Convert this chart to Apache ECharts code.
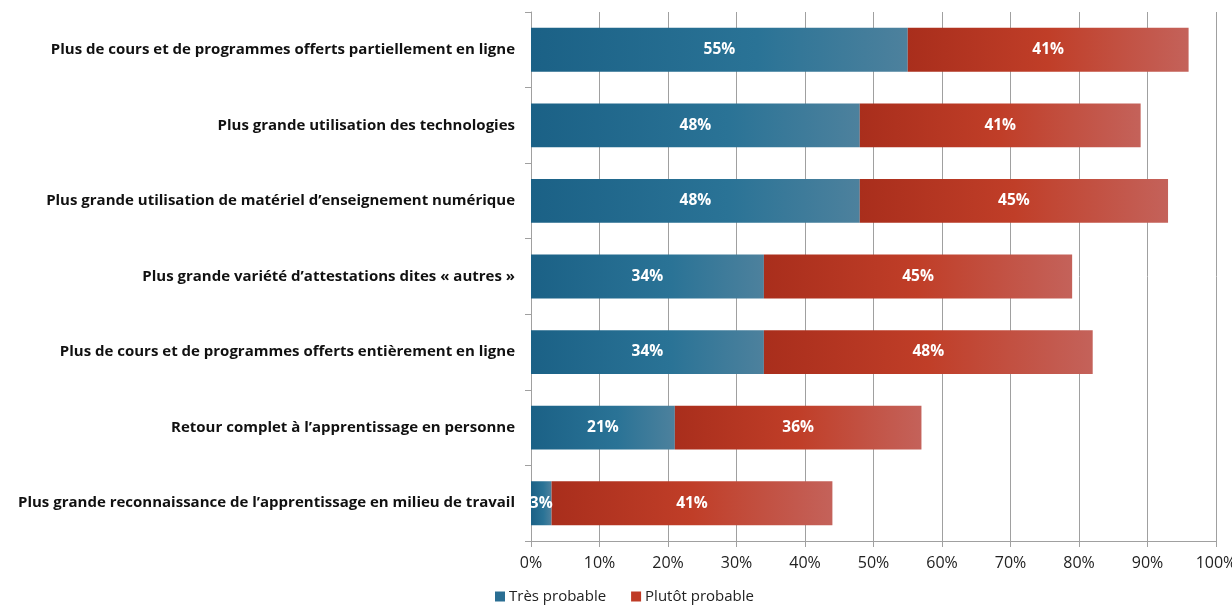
<!DOCTYPE html>
<html>
<head>
<meta charset="utf-8">
<script src="https://cdn.jsdelivr.net/npm/echarts@6/dist/echarts.min.js"></script>
<style>
html,body{margin:0;padding:0;background:#fff;}
#c{width:1232px;height:609px;}
</style>
</head>
<body>
<div id="c"></div>
<script>
const categories = [
  "Plus de cours et de programmes offerts partiellement en ligne",
  "Plus grande utilisation des technologies",
  "Plus grande utilisation de matériel d’enseignement numérique",
  "Plus grande variété d’attestations dites « autres »",
  "Plus de cours et de programmes offerts entièrement en ligne",
  "Retour complet à l’apprentissage en personne",
  "Plus grande reconnaissance de l’apprentissage en milieu de travail"
];
const tresProbable = [55, 48, 48, 34, 34, 21, 3];
const plutotProbable = [41, 41, 45, 45, 48, 36, 41];
const seriesNames = ["Très probable", "Plutôt probable"];

const FONT = "Open Sans";
const blueGrad = new echarts.graphic.LinearGradient(0,0,1,0,[
  {offset:0,color:'#1b6186'},{offset:0.6,color:'#2a7396'},{offset:1,color:'#4d819d'}]);
const redGrad = new echarts.graphic.LinearGradient(0,0,1,0,[
  {offset:0,color:'#a92e1c'},{offset:0.5,color:'#c03e28'},{offset:1,color:'#c4625a'}]);

const chart = echarts.init(document.getElementById('c'), null, {renderer:'canvas'});
const lbl = {show:true, position:'inside', color:'#fff', fontWeight:'bold', fontSize:15.5, fontFamily:FONT,
  formatter: p => p.value + '%'};
chart.setOption({
  animation:false,
  grid:{left:531, right:16, top:12, bottom:68, containLabel:false, outerBoundsMode:'none'},
  legend:{bottom:0, left:490, itemWidth:10, itemHeight:10, itemGap:25,
    icon:'rect',
    textStyle:{fontFamily:FONT, fontSize:15, color:'#222', padding:[0,0,0,-1]},
    data:[{name:seriesNames[0], itemStyle:{color:'#2a6e93'}},{name:seriesNames[1], itemStyle:{color:'#bf3b26'}}]},
  xAxis:{type:'value', min:0, max:100, interval:10,
    axisLine:{show:true, lineStyle:{color:'#a0a0a0'}},
    axisTick:{show:true, length:6, lineStyle:{color:'#a0a0a0'}},
    splitLine:{show:true, lineStyle:{color:'#a0a0a0'}},
    axisLabel:{formatter:'{value}%', fontFamily:FONT, fontSize:16, color:'#222', margin:14}},
  yAxis:{type:'category', inverse:true, data:categories,
    axisLine:{show:true, lineStyle:{color:'#a0a0a0'}},
    axisTick:{show:true, length:6, lineStyle:{color:'#a0a0a0'}},
    axisLabel:{fontFamily:FONT, fontSize:15, fontWeight:'bold', color:'#111', margin:16}},
  series:[
    {name:seriesNames[0], type:'bar', stack:'a', data:tresProbable, barCategoryGap:'42%',
      itemStyle:{color:blueGrad}, label:lbl},
    {name:seriesNames[1], type:'bar', stack:'a', data:plutotProbable, barCategoryGap:'42%',
      itemStyle:{color:redGrad}, label:lbl}
  ]
});
</script>
</body>
</html>
